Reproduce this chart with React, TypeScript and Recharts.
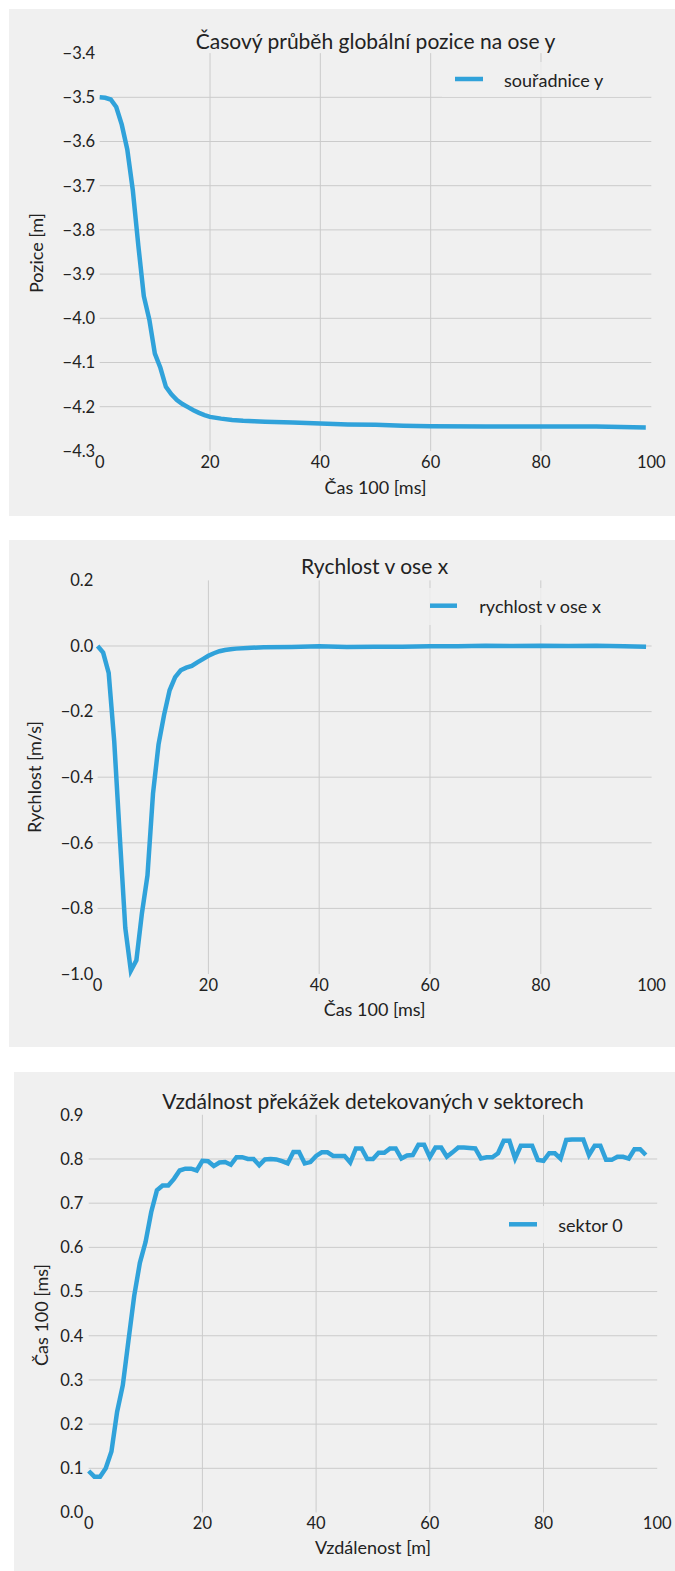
import { CartesianGrid, Line, LineChart, XAxis, YAxis } from "recharts"

const BLUE = "#30a2da"
const BG = "#f0f0f0"
const GRID = "#cbcbcb"
const INK = "#222222"
const FONT = "Lato, 'Open Sans', sans-serif"

const X_TICKS = [0, 20, 40, 60, 80, 100]
const X_GRID = [20, 40, 60, 80]

// panel 1: global position on y axis
const POS_T = [
  0, 1, 2, 3, 4, 5, 6, 7, 8, 9, 10, 11, 12, 13, 14, 15, 16, 17, 18, 19, 20,
  22, 24, 26, 28, 30, 35, 40, 45, 50, 55, 60, 70, 80, 90, 99,
]
const POS_Y = [
  -3.5, -3.501, -3.505, -3.522, -3.562, -3.618, -3.71, -3.835, -3.95, -4.003,
  -4.08, -4.112, -4.155, -4.172, -4.185, -4.194, -4.201, -4.208, -4.214,
  -4.219, -4.223, -4.227, -4.23, -4.232, -4.233, -4.234, -4.236, -4.238,
  -4.24, -4.241, -4.243, -4.244, -4.245, -4.245, -4.245, -4.247,
]
const POS_TICKS = [-4.3, -4.2, -4.1, -4.0, -3.9, -3.8, -3.7, -3.6, -3.5, -3.4]

// panel 2: velocity on x axis
const VEL_T = [
  0, 1, 2, 3, 4, 5, 6, 7, 8, 9, 10, 11, 12, 13, 14, 15, 16, 17, 18, 19, 20,
  21, 22, 23, 24, 25, 27, 30, 35, 40, 45, 50, 55, 60, 65, 70, 75, 80, 85, 90,
  95, 99,
]
const VEL_Y = [
  0, -0.02, -0.082, -0.29, -0.58, -0.86, -0.99, -0.958, -0.815, -0.7, -0.45,
  -0.3, -0.21, -0.135, -0.095, -0.074, -0.066, -0.061, -0.05, -0.04, -0.03,
  -0.022, -0.016, -0.012, -0.01, -0.008, -0.006, -0.004, -0.003, -0.001,
  -0.003, -0.002, -0.002, -0.001, -0.001, 0.001, 0, 0.001, 0, 0.001, -0.001,
  -0.002,
]
const VEL_TICKS = [-1.0, -0.8, -0.6, -0.4, -0.2, 0.0, 0.2]

// panel 3: obstacle distance, sector 0 (one sample per step)
const DIST_Y = [
  0.094, 0.081, 0.081, 0.1, 0.138, 0.228, 0.288, 0.39, 0.49, 0.565, 0.612,
  0.68, 0.729, 0.74, 0.74, 0.755, 0.774, 0.778, 0.778, 0.774, 0.796, 0.795,
  0.784, 0.792, 0.793, 0.787, 0.804, 0.804, 0.8, 0.8, 0.786, 0.799, 0.8,
  0.799, 0.795, 0.79, 0.816, 0.816, 0.79, 0.793, 0.807, 0.815, 0.815, 0.807,
  0.807, 0.807, 0.792, 0.824, 0.824, 0.8, 0.8, 0.814, 0.814, 0.824, 0.824,
  0.801, 0.808, 0.809, 0.832, 0.832, 0.804, 0.826, 0.826, 0.805, 0.815,
  0.826, 0.826, 0.825, 0.824, 0.801, 0.804, 0.804, 0.813, 0.841, 0.841,
  0.801, 0.83, 0.83, 0.83, 0.798, 0.796, 0.813, 0.813, 0.801, 0.843, 0.844,
  0.844, 0.844, 0.809, 0.83, 0.83, 0.798, 0.798, 0.805, 0.805, 0.801, 0.822,
  0.822, 0.809,
]
const DIST_T = DIST_Y.map((_, i) => i)
const DIST_TICKS = [0.0, 0.1, 0.2, 0.3, 0.4, 0.5, 0.6, 0.7, 0.8, 0.9]

const fmt = (v: number) => v.toFixed(1).replace("-", "\u2212")

type Box = { left: number; top: number; right: number; bottom: number }

type PanelProps = {
  box: Box
  plot: Box
  xs: number[]
  ys: number[]
  yTicks: number[]
  yGap: number
  title: string
  titleY: number
  xLabel: string
  xLabelY: number
  yLabel: string
  yLabelX: number
  yLabelY: number
  legend: string
  legendBox: Box
  sample: [number, number, number]
  legendTextX: number
}

function Panel(p: PanelProps) {
  const width = p.box.right - p.box.left
  const height = p.box.bottom - p.box.top
  const Y_W = 60
  const X_H = 30
  const margin = {
    top: p.plot.top - p.box.top,
    right: p.box.right - p.plot.right,
    bottom: p.box.bottom - p.plot.bottom - X_H,
    left: p.plot.left - p.box.left - Y_W,
  }
  const data = p.xs.map((x, i) => ({ x, y: p.ys[i] }))
  const yGrid = p.yTicks.slice(1, -1)
  const ox = p.box.left
  const oy = p.box.top
  const cx = (p.plot.left + p.plot.right) / 2 - ox
  const tickStyle = { fill: INK, fontSize: 16.5, fontFamily: FONT }

  return (
    <div
      style={{
        position: "absolute",
        left: p.box.left,
        top: p.box.top,
        width,
        height,
        background: BG,
      }}
    >
      <LineChart width={width} height={height} data={data} margin={margin}>
        <CartesianGrid
          stroke={GRID}
          strokeWidth={1}
          horizontalValues={yGrid}
          verticalValues={X_GRID}
        />
        <XAxis
          dataKey="x"
          type="number"
          domain={[0, 100]}
          ticks={X_TICKS}
          interval={0}
          axisLine={false}
          tickLine={false}
          tickSize={0}
          tickMargin={5}
          height={X_H}
          tick={tickStyle}
        />
        <YAxis
          type="number"
          domain={[p.yTicks[0], p.yTicks[p.yTicks.length - 1]]}
          ticks={p.yTicks}
          interval={0}
          axisLine={false}
          tickLine={false}
          tickSize={0}
          tickMargin={p.yGap}
          width={Y_W}
          tick={tickStyle}
          tickFormatter={fmt}
        />
        <Line
          type="linear"
          dataKey="y"
          stroke={BLUE}
          strokeWidth={4.5}
          dot={false}
          activeDot={false}
          isAnimationActive={false}
        />
      </LineChart>
      <svg
        width={width}
        height={height}
        style={{ position: "absolute", left: 0, top: 0, pointerEvents: "none" }}
        fontFamily={FONT}
        fill={INK}
      >
        <text x={cx} y={p.titleY - oy} textAnchor="middle" fontSize={21}>
          {p.title}
        </text>
        <text x={cx} y={p.xLabelY - oy} textAnchor="middle" fontSize={18}>
          {p.xLabel}
        </text>
        <text
          x={p.yLabelX - ox}
          y={p.yLabelY - oy}
          textAnchor="middle"
          fontSize={18}
          transform={`rotate(-90, ${p.yLabelX - ox}, ${p.yLabelY - oy})`}
        >
          {p.yLabel}
        </text>
        <rect
          x={p.legendBox.left - ox}
          y={p.legendBox.top - oy}
          width={p.legendBox.right - p.legendBox.left}
          height={p.legendBox.bottom - p.legendBox.top}
          fill="rgba(240,240,240,0.8)"
        />
        <line
          x1={p.sample[0] - ox}
          x2={p.sample[1] - ox}
          y1={p.sample[2] - oy}
          y2={p.sample[2] - oy}
          stroke={BLUE}
          strokeWidth={4.5}
        />
        <text x={p.legendTextX - ox} y={p.sample[2] + 7.5 - oy} fontSize={18}>
          {p.legend}
        </text>
      </svg>
    </div>
  )
}

export default function App() {
  return (
    <div style={{ position: "absolute", left: 0, top: 0, width: 675, height: 1571 }}>
      <Panel
        box={{ left: 9, top: 9, right: 675, bottom: 516 }}
        plot={{ left: 99.7, top: 53.1, right: 651.3, bottom: 450.9 }}
        xs={POS_T}
        ys={POS_Y}
        yTicks={POS_TICKS}
        yGap={4.5}
        title="Časový průběh globální pozice na ose y"
        titleY={48.5}
        xLabel="Čas 100 [ms]"
        xLabelY={494}
        yLabel="Pozice [m]"
        yLabelX={43}
        yLabelY={253}
        legend="souřadnice y"
        legendBox={{ left: 442, top: 62, right: 640, bottom: 97 }}
        sample={[455, 483, 79]}
        legendTextX={504}
      />
      <Panel
        box={{ left: 9, top: 540, right: 675, bottom: 1047 }}
        plot={{ left: 97.6, top: 580.4, right: 651.6, bottom: 974 }}
        xs={VEL_T}
        ys={VEL_Y}
        yTicks={VEL_TICKS}
        yGap={4.3}
        title="Rychlost v ose x"
        titleY={574.3}
        xLabelY={1016}
        xLabel="Čas 100 [ms]"
        yLabel="Rychlost [m/s]"
        yLabelX={41}
        yLabelY={777}
        legend="rychlost v ose x"
        legendBox={{ left: 417, top: 588, right: 640, bottom: 625 }}
        sample={[430, 457, 605.7]}
        legendTextX={479.3}
      />
      <Panel
        box={{ left: 14, top: 1072, right: 675, bottom: 1571 }}
        plot={{ left: 88.7, top: 1114.8, right: 657.2, bottom: 1512.5 }}
        xs={DIST_T}
        ys={DIST_Y}
        yTicks={DIST_TICKS}
        yGap={5.4}
        title="Vzdálnost překážek detekovaných v sektorech"
        titleY={1109.3}
        xLabel="Vzdálenost [m]"
        xLabelY={1554}
        yLabel="Čas 100 [ms]"
        yLabelX={48}
        yLabelY={1315}
        legend="sektor 0"
        legendBox={{ left: 496, top: 1206, right: 646, bottom: 1243 }}
        sample={[509, 537, 1224.3]}
        legendTextX={558.3}
      />
    </div>
  )
}
